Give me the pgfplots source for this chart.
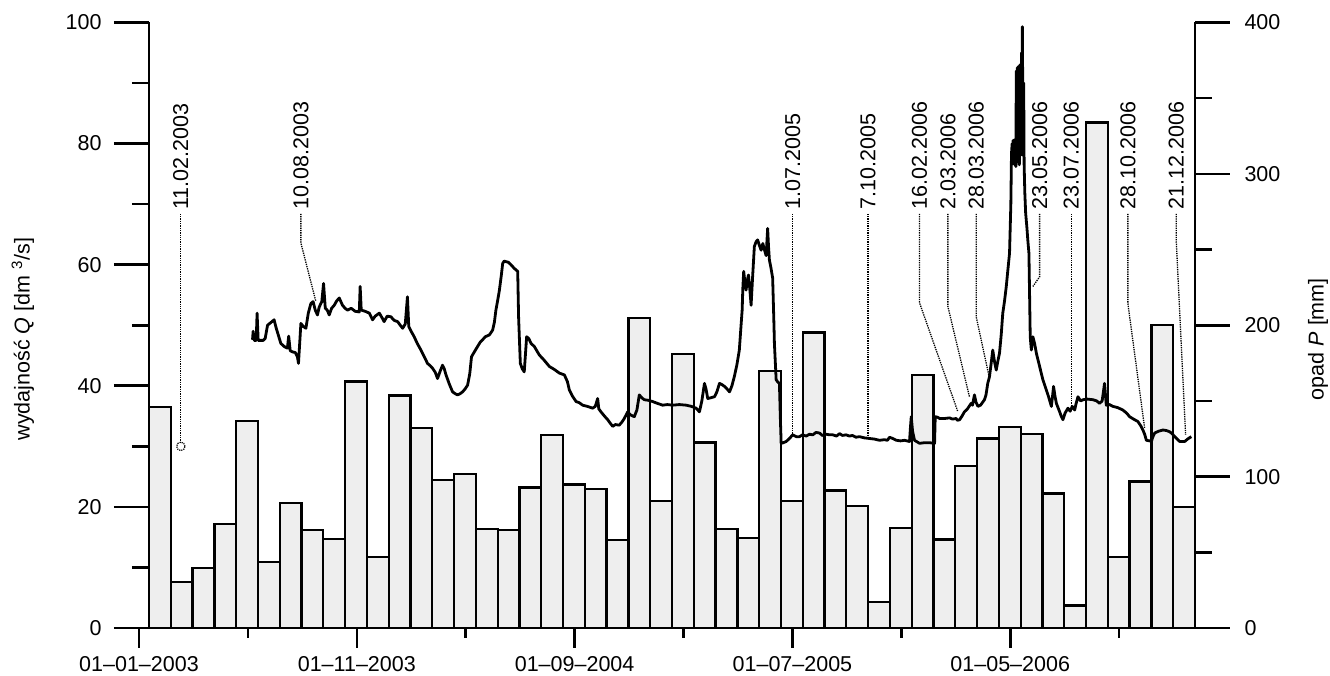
\documentclass[border=0pt]{standalone}
\usepackage{fontspec}
\setmainfont{Liberation Sans}
\usepackage{pgfplots}
\usepackage{pgfplotstable}
\pgfplotsset{compat=1.18}

\definecolor{barfill}{RGB}{238,238,238}
\newcommand{\chartfont}{\fontsize{21.5}{25}\selectfont}

% monthly precipitation P [mm], bar i = month i (x = months from 01-01-2003)
\pgfplotstableread{
m P
1 145.8
2 30.6
3 39.8
4 68.8
5 136.8
6 43.6
7 82.8
8 64.8
9 58.8
10 162.8
11 46.8
12 153.6
13 132.0
14 97.6
15 101.6
16 65.6
17 64.8
18 92.8
19 127.6
20 94.8
21 91.6
22 58.0
23 204.8
24 84.0
25 181.2
26 122.6
27 65.6
28 59.6
29 170.0
30 84.0
31 195.2
32 90.8
33 80.4
34 17.4
35 66.0
36 167.2
37 58.4
38 107.2
39 125.2
40 132.8
41 128.0
42 88.8
43 14.8
44 334.0
45 46.8
46 96.8
47 200.0
48 80.0
}\opad

% discharge Q [dm3/s]
\pgfplotstableread{
m Q
5.25 47.6
5.28 49.0
5.33 47.5
5.42 47.5
5.46 52.0
5.51 47.5
5.74 47.5
5.83 47.8
5.94 50.0
6.11 50.5
6.24 50.9
6.34 49.5
6.55 47.0
6.70 46.5
6.85 46.2
6.91 48.2
6.98 45.8
7.08 45.6
7.21 45.5
7.31 44.8
7.36 43.7
7.47 50.3
7.58 49.8
7.70 49.5
7.81 52.0
7.93 53.6
8.03 53.9
8.13 52.5
8.23 51.7
8.31 53.0
8.43 53.9
8.51 56.9
8.59 52.8
8.68 52.5
8.77 51.7
8.88 52.8
9.00 53.3
9.11 54.0
9.23 54.5
9.38 53.3
9.50 52.8
9.61 52.5
9.78 52.8
9.96 52.3
10.15 52.2
10.19 56.4
10.24 52.5
10.42 52.3
10.61 52.0
10.76 50.9
10.88 51.5
11.07 52.0
11.20 51.2
11.29 50.6
11.43 51.5
11.60 51.4
11.75 50.8
11.91 50.6
12.03 50.0
12.14 49.5
12.26 50.2
12.36 54.7
12.42 49.8
12.53 49.0
12.67 48.1
12.81 47.0
12.98 45.9
13.13 44.8
13.28 43.7
13.41 43.3
13.51 42.9
13.64 42.2
13.74 41.2
13.87 42.5
13.97 43.4
14.05 42.8
14.13 41.8
14.28 40.3
14.43 39.0
14.55 38.7
14.66 38.5
14.78 38.7
14.89 39.0
15.01 39.5
15.12 40.1
15.22 42.0
15.30 44.8
15.43 45.6
15.58 46.5
15.70 47.2
15.81 47.6
15.93 48.1
16.12 48.4
16.27 49.2
16.35 50.5
16.42 52.5
16.51 54.3
16.58 55.8
16.67 58.3
16.73 60.2
16.80 60.6
16.88 60.5
16.99 60.4
17.11 60.0
17.26 59.4
17.42 58.9
17.46 51.4
17.54 43.7
17.63 42.8
17.72 42.3
17.83 48.1
17.93 47.8
18.03 47.0
18.18 46.5
18.41 45.1
18.64 44.2
18.87 43.2
19.10 42.7
19.33 42.1
19.56 41.8
19.70 40.7
19.79 39.3
19.93 38.3
20.10 37.4
20.25 37.2
20.40 36.8
20.62 36.6
20.86 36.3
20.98 36.6
21.09 37.9
21.14 36.2
21.24 35.7
21.40 35.0
21.55 34.4
21.67 33.8
21.78 33.3
21.90 33.6
22.08 33.5
22.20 34.0
22.31 34.6
22.47 35.7
22.59 35.2
22.77 34.9
22.89 36.0
23.00 38.5
23.12 38.0
23.23 37.7
23.42 37.6
23.61 37.4
23.83 37.1
24.07 36.8
24.29 36.9
24.53 36.8
24.84 36.9
25.15 36.8
25.39 36.6
25.61 36.3
25.76 35.7
25.87 37.5
25.99 40.4
26.06 39.5
26.14 37.9
26.26 38.0
26.45 38.2
26.56 39.0
26.68 40.4
26.79 40.2
26.91 39.9
27.02 39.5
27.14 39.0
27.25 40.0
27.36 41.5
27.48 43.5
27.59 45.9
27.66 49.5
27.72 52.5
27.75 56.0
27.79 58.9
27.85 57.0
27.90 55.8
27.96 57.5
28.01 58.3
28.07 56.0
28.13 53.3
28.20 58.0
28.28 63.0
28.36 63.8
28.43 64.1
28.51 63.2
28.59 62.4
28.67 63.5
28.74 62.5
28.82 61.5
28.89 66.0
28.93 63.0
28.97 60.8
29.04 59.5
29.12 57.8
29.18 50.0
29.20 47.0
29.28 41.0
29.36 40.6
29.43 40.4
29.47 35.0
29.51 30.5
29.61 30.6
29.74 30.8
29.89 31.3
30.04 31.9
30.21 31.6
30.35 31.6
30.49 31.9
30.66 31.7
30.81 32.0
30.96 31.9
31.11 32.3
31.27 32.2
31.40 31.8
31.57 32.0
31.73 31.9
31.88 31.9
32.05 31.7
32.19 32.1
32.32 31.8
32.49 31.9
32.64 31.7
32.78 31.8
32.94 31.5
33.10 31.6
33.33 31.4
33.56 31.3
33.79 31.2
34.02 31.0
34.25 31.1
34.39 31.0
34.48 31.5
34.63 31.3
34.80 31.0
34.99 30.9
35.17 31.0
35.40 30.8
35.45 33.5
35.48 34.9
35.54 32.5
35.63 31.0
35.72 30.8
35.86 30.5
36.09 30.6
36.32 30.6
36.55 30.5
36.58 34.9
36.69 34.8
36.78 34.6
37.01 34.6
37.24 34.7
37.37 34.5
37.54 34.6
37.60 34.3
37.70 34.4
37.81 35.0
37.92 35.7
38.06 36.2
38.23 37.1
38.29 36.8
38.38 38.5
38.45 37.3
38.54 36.6
38.66 36.8
38.84 37.7
38.91 38.5
38.99 40.4
39.07 41.5
39.14 43.5
39.22 45.9
39.30 44.0
39.38 42.6
39.45 44.0
39.53 45.4
39.61 48.5
39.68 52.0
39.76 54.0
39.84 56.4
39.91 59.0
39.99 61.9
40.05 70.0
40.08 78.4
40.11 80.0
40.13 77.0
40.15 80.5
40.17 78.0
40.20 80.6
40.22 76.5
40.24 80.0
40.26 79.0
40.28 76.2
40.30 92.0
40.32 78.0
40.34 92.5
40.36 77.0
40.38 92.7
40.40 78.0
40.42 92.5
40.44 76.5
40.46 93.0
40.48 78.0
40.50 92.0
40.52 79.0
40.54 95.0
40.56 80.0
40.58 99.3
40.60 85.0
40.62 78.0
40.64 90.0
40.66 76.5
40.69 72.0
40.73 68.5
40.79 66.0
40.83 64.0
40.88 61.9
40.91 55.0
40.94 48.1
40.99 45.9
41.06 48.1
41.14 47.0
41.22 45.4
41.37 43.2
41.52 41.0
41.68 39.3
41.78 38.2
41.91 36.6
41.97 38.5
42.01 39.9
42.08 38.2
42.14 37.1
42.29 35.7
42.36 35.0
42.44 34.4
42.54 35.5
42.67 36.3
42.77 35.8
42.87 36.6
42.98 36.0
43.04 37.0
43.13 38.2
43.25 37.5
43.36 37.7
43.57 37.8
43.82 37.7
43.99 37.5
44.12 37.1
44.24 37.5
44.35 40.4
44.43 36.8
44.58 36.9
44.73 36.6
44.95 36.4
45.19 36.0
45.36 35.5
45.50 34.9
45.68 34.5
45.88 34.1
46.01 33.4
46.11 32.7
46.19 32.0
46.27 31.0
46.42 30.9
46.50 30.8
46.56 31.5
46.65 32.2
46.83 32.5
47.03 32.7
47.20 32.6
47.34 32.4
47.45 32.1
47.57 31.6
47.68 31.2
47.80 30.8
48.03 30.8
48.16 31.2
48.33 31.6
}\wydajnosc

\pgfplotsset{
  frame/.style={
    scale only axis, width=1046pt, height=605.5pt,
    at={(149pt,48pt)}, anchor=south west,
    xmin=0.5, xmax=48.5, ymin=0,
    axis x line=none,
    axis line style={-, line width=2.8pt},
    every outer y axis line/.append style={-},
    y axis line style={-},
    tick align=outside,
    major tick length=35pt, minor tick length=17pt,
    every tick/.style={black, line width=2.6pt},
    tick label style={font=\chartfont},
    /pgf/number format/assume math mode=true,
    clip=false,
  },
}

\begin{document}
\begin{tikzpicture}[x=1pt,y=1pt]
\useasboundingbox (0,0) rectangle (1330,676);

% precipitation bars, right axis
\begin{axis}[axis y line=right, frame, ymax=400,
  ytick={0,100,200,300,400}, minor ytick={50,150,250,350},
  yticklabel style={xshift=11pt},
  ylabel={opad \textit{P} [mm]},
  ylabel style={at={(axis description cs:1.1176,0.477)}, anchor=center, font=\chartfont},
]
\addplot[ybar, bar width=1, bar shift=0pt, fill=barfill, draw=black, line width=2.3pt]
  table[x=m, y=P] {\opad};
\end{axis}

% discharge line, left axis
\begin{axis}[axis y line=left, frame, ymax=100,
  ytick={0,20,40,60,80,100}, minor ytick={10,30,50,70,90},
  yticklabel style={xshift=-9pt},
  ylabel={wydajność \textit{Q} [dm \textsuperscript{3}/s]},
  ylabel style={at={(axis description cs:-0.1205,0.477)}, anchor=center, font=\chartfont},
]
\addplot[black, line width=2.8pt, line join=round, mark=none] table[x=m, y=Q] {\wydajnosc};
\addplot[only marks, mark=o, mark size=4.2pt, mark options={densely dotted, line width=1.2pt}]
  coordinates {(1.96,30)};

\begin{scope}[densely dotted, line width=1.3pt]
  \draw (axis cs:1.96,68.4) -- (axis cs:1.96,30.7);
  \draw (axis cs:7.47,68.4) -- (axis cs:7.47,63.6) -- (axis cs:8.16,53.9);
  \draw (axis cs:30.04,68.4) -- (axis cs:30.04,31.6);
  \draw (axis cs:33.49,68.4) -- (axis cs:33.49,31.6);
  \draw (axis cs:35.86,68.4) -- (axis cs:35.86,53.7) -- (axis cs:37.62,35.7);
  \draw (axis cs:37.16,68.4) -- (axis cs:37.16,53.1) -- (axis cs:38.15,38.2);
  \draw (axis cs:38.46,68.4) -- (axis cs:38.46,51.4) -- (axis cs:39.07,41.2);
  \draw (axis cs:41.37,68.4) -- (axis cs:41.37,58.0) -- (axis cs:41.06,56.4);
  \draw (axis cs:42.82,68.4) -- (axis cs:42.82,36.3);
  \draw (axis cs:45.42,68.4) -- (axis cs:45.42,53.6) -- (axis cs:46.19,33.0);
  \draw (axis cs:47.64,68.4) -- (axis cs:47.64,64.0) -- (axis cs:48.07,31.9);
\end{scope}
\begin{scope}[every node/.style={rotate=90, anchor=west, inner sep=0pt, font=\chartfont}]
  \node at (axis cs:1.96,69.1) {11.02.2003};
  \node at (axis cs:7.47,69.1) {10.08.2003};
  \node at (axis cs:30.04,69.1) {1.07.2005};
  \node at (axis cs:33.49,69.1) {7.10.2005};
  \node at (axis cs:35.86,69.1) {16.02.2006};
  \node at (axis cs:37.16,69.1) {2.03.2006};
  \node at (axis cs:38.46,69.1) {28.03.2006};
  \node at (axis cs:41.37,69.1) {23.05.2006};
  \node at (axis cs:42.82,69.1) {23.07.2006};
  \node at (axis cs:45.42,69.1) {28.10.2006};
  \node at (axis cs:47.64,69.1) {21.12.2006};
\end{scope}
\end{axis}

% time axis
\begin{axis}[
  scale only axis, width=1116pt, height=605.5pt,
  at={(114pt,48pt)}, anchor=south west,
  xmin=-1.148, xmax=50.09, ymin=0, ymax=100,
  axis y line=none, axis x line=bottom,
  axis line style={-, line width=2.8pt},
  every outer x axis line/.append style={-},
  x axis line style={-},
  tick align=outside,
  major tick length=20pt, minor tick length=10pt,
  every tick/.style={black, line width=2.6pt},
  xtick={0,10,20,30,40}, minor xtick={5,15,25,35,45},
  xticklabels={01--01--2003, 01--11--2003, 01--09--2004, 01--07--2005, 01--05--2006},
  tick label style={font=\chartfont},
  xticklabel style={yshift=-5pt},
]
\end{axis}
\end{tikzpicture}
\end{document}
